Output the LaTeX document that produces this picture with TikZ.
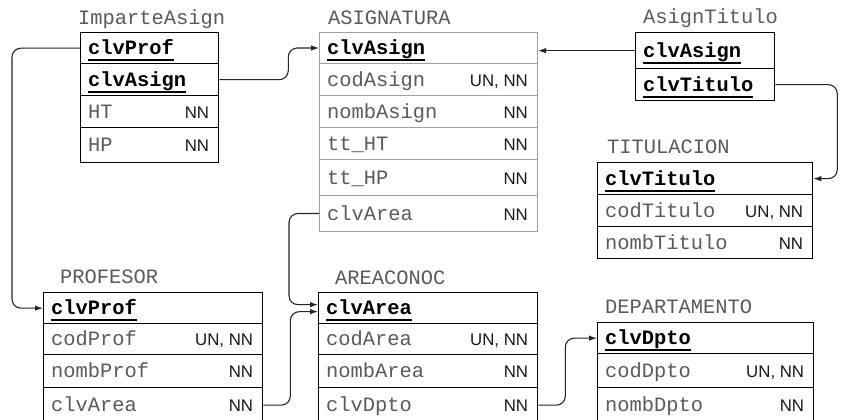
\documentclass[tikz,border=0pt]{standalone}
\usepackage{fontspec}
\setmainfont{Liberation Sans}
\newfontfamily\monof{Liberation Mono}
\usetikzlibrary{arrows.meta}
\definecolor{txtgray}{HTML}{5A5A5A}
\definecolor{boxgray}{HTML}{A0A0A0}
\newsavebox\keybox
\newcommand\keyf[1]{\sbox\keybox{\bfseries #1}\rlap{\usebox\keybox}\raisebox{-6.5pt}{\rule{\wd\keybox}{1.8pt}}}
\newcommand\erow[8]{%
  \node[rowbox,#6,minimum width=#4pt,minimum height=#5pt] (#1) at (#2,#3) {};
  \node[#8] (#1-f) at ([xshift=8pt,yshift=-6.5pt]#1.west) {#7};
}
\newcommand\econs[2]{\node[cons] (#1-c) at ([xshift=-10pt,yshift=-6.5pt]#1.east) {#2};}
\tikzset{
  rowbox/.style={draw=black, line width=1.3pt, inner sep=0pt, anchor=north west},
  graybox/.style={draw=boxgray, line width=1pt},
  fld/.style={font=\monof\fontsize{20.4}{24}\selectfont, text=txtgray, inner sep=0pt, anchor=base west},
  keyfld/.style={fld, text=black},
  cons/.style={font=\fontsize{16.8}{20}\selectfont, text=black!90, inner sep=0pt, anchor=base east},
  ttl/.style={font=\monof\fontsize{20.4}{24}\selectfont, text=txtgray, inner sep=0pt, anchor=base west},
  link/.style={draw=black!85, line width=1.1pt, rounded corners=9pt, -{Latex[length=8pt,width=5.5pt]}}
}
\begin{document}
\begin{tikzpicture}[x=1pt,y=-1pt]
\clip (0,0) rectangle (841,420);
\fill[white] (0,0) rectangle (841,420);
% ImparteAsign
\node[ttl] (t-ia) at (78,25) {ImparteAsign};
\erow{ia1}{80}{32}{138}{31}{}{\keyf{clvProf}}{keyfld}
\erow{ia2}{80}{63}{138}{32}{}{\keyf{clvAsign}}{keyfld}
\erow{ia3}{80}{95}{138}{32}{}{HT}{fld}\econs{ia3}{NN}
\erow{ia4}{80}{127}{138}{35}{}{HP}{fld}\econs{ia4}{NN}
% ASIGNATURA
\node[ttl] (t-as) at (328,25) {ASIGNATURA};
\erow{as1}{319}{32}{218}{31}{graybox}{\keyf{clvAsign}}{keyfld}
\erow{as2}{319}{63}{218}{32}{graybox}{codAsign}{fld}\econs{as2}{UN, NN}
\erow{as3}{319}{95}{218}{32}{graybox}{nombAsign}{fld}\econs{as3}{NN}
\erow{as4}{319}{127}{218}{32}{graybox}{tt\_HT}{fld}\econs{as4}{NN}
\erow{as5}{319}{159}{218}{36}{graybox}{tt\_HP}{fld}\econs{as5}{NN}
\erow{as6}{319}{195}{218}{36}{graybox}{clvArea}{fld}\econs{as6}{NN}
% AsignTitulo
\node[ttl] (t-at) at (643,24) {AsignTitulo};
\erow{at1}{635}{32}{139}{36}{}{\keyf{clvAsign}}{keyfld}
\erow{at2}{635}{68}{139}{32}{}{\keyf{clvTitulo}}{keyfld}
% TITULACION
\node[ttl] (t-ti) at (607,153) {TITULACION};
\erow{ti1}{597}{162}{215}{32}{}{\keyf{clvTitulo}}{keyfld}
\erow{ti2}{597}{194}{215}{32}{}{codTitulo}{fld}\econs{ti2}{UN, NN}
\erow{ti3}{597}{226}{215}{32}{}{nombTitulo}{fld}\econs{ti3}{NN}
% PROFESOR
\node[ttl] (t-pr) at (60,283) {PROFESOR};
\erow{pr1}{43}{292}{219}{31}{}{\keyf{clvProf}}{keyfld}
\erow{pr2}{43}{323}{219}{31}{}{codProf}{fld}\econs{pr2}{UN, NN}
\erow{pr3}{43}{354}{219}{33}{}{nombProf}{fld}\econs{pr3}{NN}
\erow{pr4}{43}{387}{219}{35}{}{clvArea}{fld}\econs{pr4}{NN}
% AREACONOC
\node[ttl] (t-ar) at (335,284) {AREACONOC};
\erow{ar1}{318}{292}{219}{31}{}{\keyf{clvArea}}{keyfld}
\erow{ar2}{318}{323}{219}{31}{}{codArea}{fld}\econs{ar2}{UN, NN}
\erow{ar3}{318}{354}{219}{33}{}{nombArea}{fld}\econs{ar3}{NN}
\erow{ar4}{318}{387}{219}{35}{}{clvDpto}{fld}\econs{ar4}{NN}
% DEPARTAMENTO
\node[ttl] (t-de) at (605,313) {DEPARTAMENTO};
\erow{de1}{597}{322}{216}{31}{}{\keyf{clvDpto}}{keyfld}
\erow{de2}{597}{353}{216}{34}{}{codDpto}{fld}\econs{de2}{UN, NN}
\erow{de3}{597}{387}{216}{35}{}{nombDpto}{fld}\econs{de3}{NN}
% connectors
\draw[link] (ia1.west) -- ++(-68,0) |- (pr1.west);
\draw[link] (ia2.east) -- ++(69,0) |- (as1.west);
\draw[link] (at1.west) -- (at1.west -| as1.east);
\draw[link] (at2.east) -- ++(62,0) |- (ti1.east);
\draw[link] (as6.west) -- ++(-30,0) |- ([yshift=3.5pt]ar1.west);
\draw[link] (pr4.east) -- ++(27,0) |- ([yshift=-3.5pt]ar1.west);
\draw[link] (ar4.east) -- ++(27,0) |- (de1.west);
\end{tikzpicture}
\end{document}
